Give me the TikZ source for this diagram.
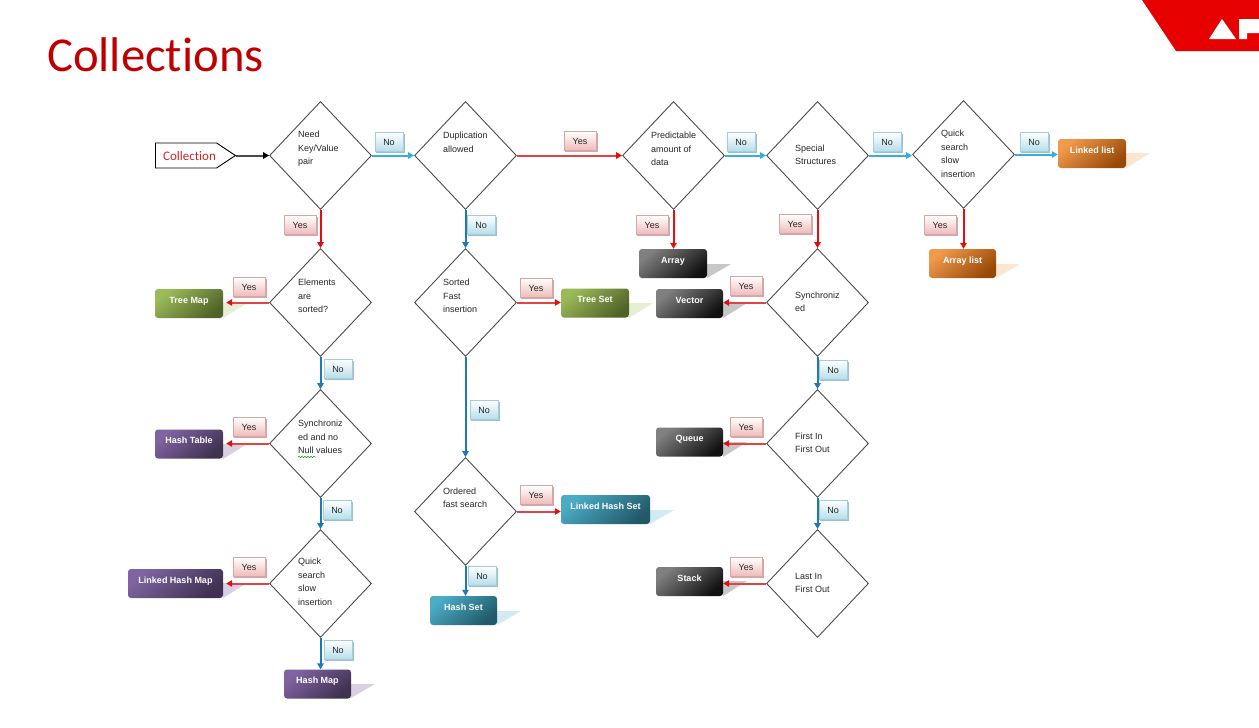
\documentclass[tikz,border=0pt]{standalone}
\usepackage{fontspec}
\setmainfont{Liberation Sans}
\newfontfamily\calfont[Ligatures=NoCommon]{Carlito}
\usetikzlibrary{shapes.geometric,shapes.symbols,arrows.meta,decorations.pathmorphing}
\definecolor{redT}{HTML}{C00000}
\definecolor{logoR}{HTML}{E60000}
\definecolor{ayes}{HTML}{E01010}
\definecolor{ayesl}{HTML}{E04545}
\definecolor{ano}{HTML}{1F78B8}
\definecolor{anol}{HTML}{35B0DC}
\definecolor{Tg1}{HTML}{9BBB59}\definecolor{Tg2}{HTML}{4F6228}
\definecolor{Tp1}{HTML}{8064A2}\definecolor{Tp2}{HTML}{3F3151}
\definecolor{Tk1}{HTML}{808080}\definecolor{Tk2}{HTML}{111111}
\definecolor{Tt1}{HTML}{4BACC6}\definecolor{Tt2}{HTML}{215968}
\definecolor{To1}{HTML}{F09A4C}\definecolor{To2}{HTML}{984807}
\definecolor{Yd}{HTML}{D9A5A5}\definecolor{Yb}{HTML}{EFB9B9}
\definecolor{Ys}{HTML}{CFA8A8}
\definecolor{Nd}{HTML}{A5CEDC}\definecolor{Nb}{HTML}{B5DDEA}
\definecolor{Ns}{HTML}{A0BFCB}
\tikzset{
 x=1pt,y=-1pt,
 dec/.style={diamond,draw=black!70,line width=.9pt,minimum width=102pt,minimum height=108pt,inner sep=0pt,aspect=1},
 dectext/.style={anchor=west,align=left,font=\fontsize{9}{13.5}\selectfont,text=black!85,inner sep=0pt},
 term/.style={rounded corners=3pt,minimum height=29pt,inner sep=0pt,text=white,
   font=\fontsize{9}{10}\selectfont\bfseries,text height=8pt,text depth=9pt},
 tgreen/.style={term,top color=Tg1,bottom color=Tg2,shading angle=40},
 tpurple/.style={term,top color=Tp1,bottom color=Tp2,shading angle=40},
 tgray/.style={term,top color=Tk1,bottom color=Tk2,shading angle=40},
 tteal/.style={term,top color=Tt1,bottom color=Tt2,shading angle=40},
 torange/.style={term,top color=To1,bottom color=To2,shading angle=40},
 tagyes/.style={draw=Yd,top color=white,bottom color=Yb,line width=.6pt,minimum width=32pt,minimum height=19pt,inner sep=0pt,
   font=\fontsize{9}{10}\selectfont,text=black!85},
 tagno/.style={draw=Nd,top color=white,bottom color=Nb,line width=.6pt,minimum width=28pt,minimum height=19pt,inner sep=0pt,
   font=\fontsize{9}{10}\selectfont,text=black!85},
 arrowhd/.style={-{Triangle[length=6pt,width=6.5pt,color=#1]}},
 ayesline/.style={color=ayes,line width=2pt,arrowhd=ayes},
 ayeslight/.style={color=ayesl,line width=2pt,arrowhd=ayes},
 anoline/.style={color=ano,line width=2pt,arrowhd=ano},
 anolline/.style={color=anol,line width=2pt,arrowhd=anol},
 gapend/.style={shorten >=3pt},
}
\newcommand{\shad}[4]{\fill[#4] (#1,#3) -- ++(24,0) -- (#1,#2) -- cycle;}
\newcommand{\ytag}[3]{%
 \fill[Ys] (#2-15,#3-8) rectangle (#2+17.5,#3+11);
 \node[tagyes] (#1) at (#2,#3) {Yes};}
\newcommand{\ntag}[3]{%
 \fill[Ns] (#2-13,#3-8) rectangle (#2+15.5,#3+11);
 \node[tagno] (#1) at (#2,#3) {No};}
\begin{document}
\begin{tikzpicture}
\useasboundingbox (0,0) rectangle (1259,728);
\fill[white] (0,0) rectangle (1259,728);
% logo
\fill[logoR] (1142,0) -- (1259,0) -- (1259,51) -- (1176,51) -- cycle;
\fill[white] (1209,39) -- (1222,19) -- (1236,39) -- cycle;
\fill[white] (1239,39) -- (1239,19) -- (1259,19) -- (1259,33) -- (1247,33) -- (1247,39) -- cycle;
% title
\node[anchor=west,inner sep=0pt,text=redT,font=\calfont\fontsize{48.7}{52}\selectfont] (title) at (47,55) {Collections};
% shadows of terminal boxes
\shad{223}{318}{303}{Tg1!25}
\shad{223}{459}{444}{Tp1!30}
\shad{223}{598}{583}{Tp1!30}
\shad{351}{698}{684}{Tp1!30}
\shad{629}{318}{303}{Tg1!25}
\shad{650}{524}{510}{Tt1!25}
\shad{497}{625}{611}{Tt1!25}
\shad{707}{278}{264}{black!22}
\shad{723}{318}{303}{black!22}
\shad{723}{457}{442}{black!22}
\shad{723}{596}{581}{black!22}
\shad{996}{278}{264}{To1!25}
\shad{1126}{168}{153}{To1!25}
% start
\node[signal,signal to=east,signal pointer angle=67,draw=black,line width=.9pt,minimum width=80pt,minimum height=25pt,inner sep=0pt,anchor=west] (start) at (155,155.5) {};
\node[inner sep=0pt,text=redT!85!white,font=\calfont\fontsize{13}{14}\selectfont] (starttext) at (189.5,156) {Collection};
% decisions
\node[dec] (d1) at (320.5,155.5) {};
\node[dec] (d2) at (465.5,155.5) {};
\node[dec] (d3) at (673.5,155.5) {};
\node[dec] (d4) at (817.5,155.5) {};
\node[dec] (d5) at (963.5,154.5) {};
\node[dec] (e1) at (320.5,302.5) {};
\node[dec] (e2) at (320.5,443.5) {};
\node[dec] (e3) at (320.5,583.5) {};
\node[dec] (f1) at (465.5,302.5) {};
\node[dec] (f2) at (465.5,511.5) {};
\node[dec] (g1) at (817.5,302.5) {};
\node[dec] (g2) at (817.5,443.5) {};
\node[dec] (g3) at (817.5,583.5) {};
\node[dectext] (td1) at (298,149) {Need\\Key/Value\\pair};
\node[dectext] (td2) at (443,142.5) {Duplication\\allowed};
\node[dectext] (td3) at (651,149) {Predictable\\amount of\\data};
\node[dectext] (td4) at (795,155) {Special\\Structures};
\node[dectext] (td5) at (941,154) {Quick\\search\\slow\\insertion};
\node[dectext] (te1) at (298,296) {Elements\\are\\sorted?};
\node[dectext] (te2) at (298,437) {Synchroniz\\ed and no\\Null values};
\node[dectext] (te3) at (298,582) {Quick\\search\\slow\\insertion};
\node[dectext] (tf1) at (443,296) {Sorted\\Fast\\insertion};
\node[dectext] (tf2) at (443,498) {Ordered\\fast search};
\node[dectext] (tg1) at (795,302) {Synchroniz\\ed};
\node[dectext] (tg2) at (795,443) {First In\\First Out};
\node[dectext] (tg3) at (795,583) {Last In\\First Out};
\draw[green!55!black,line width=.5pt,decorate,decoration={snake,amplitude=.6pt,segment length=3pt}] (298,457) -- (316,457);
% terminals
\node[tgreen,minimum width=68pt] (treemap) at (189,303.5) {Tree Map};
\node[tpurple,minimum width=68pt] (hashtable) at (189,444) {Hash Table};
\node[tpurple,minimum width=95pt] (lhm) at (175.5,583.5) {Linked Hash Map};
\node[tpurple,minimum width=67pt] (hashmap) at (317.5,684) {Hash Map};
\node[tgreen,minimum width=68pt] (treeset) at (595,303) {Tree Set};
\node[tteal,minimum width=89pt] (lhs) at (605.5,509.5) {Linked Hash Set};
\node[tteal,minimum width=67pt] (hashset) at (463.5,610.5) {Hash Set};
\node[tgray,minimum width=68pt] (array) at (673,263.5) {Array};
\node[tgray,minimum width=67pt] (vector) at (689.5,303.5) {Vector};
\node[tgray,minimum width=67pt] (queue) at (689.5,442) {Queue};
\node[tgray,minimum width=67pt] (stack) at (689.5,581.5) {Stack};
\node[torange,minimum width=67pt] (arraylist) at (962.5,263.5) {Array list};
\node[torange,minimum width=68pt] (linkedlist) at (1092,153.5) {Linked list};
% connectors
\draw[black!70,line width=2pt,arrowhd=black] (start.east) -- (start.east -| d1.west);
\draw[anolline] (d1.east) -- (d2.west);
\draw[ayeslight] (d2.east) -- (d3.west);
\draw[anolline] (d3.east) -- (d4.west);
\draw[anolline] (d4.east) -- (d4.east -| d5.west);
\draw[anolline] (d5.east) -- (d5.east -| linkedlist.west);
\draw[ayesline] (d1.south) -- (e1.north);
\draw[anoline] (e1.south) -- (e2.north);
\draw[anoline] (e2.south) -- (e3.north);
\draw[anoline] (e3.south) -- (e3.south |- hashmap.north);
\draw[ayeslight,gapend] (e1.west) -- (e1.west -| treemap.east);
\draw[ayeslight,gapend] (e2.west) -- (e2.west -| hashtable.east);
\draw[ayeslight,gapend] (e3.west) -- (e3.west -| lhm.east);
\draw[anoline] (d2.south) -- (f1.north);
\draw[anoline] (f1.south) -- (f2.north);
\draw[anoline] (f2.south) -- (f2.south |- hashset.north);
\draw[ayeslight] (f1.east) -- (f1.east -| treeset.west);
\draw[ayeslight] (f2.east) -- (f2.east -| lhs.west);
\draw[ayesline] (d3.south) -- (d3.south |- array.north);
\draw[ayesline] (d4.south) -- (g1.north);
\draw[anoline] (g1.south) -- (g2.north);
\draw[anoline] (g2.south) -- (g3.north);
\draw[ayeslight] (g1.west) -- (g1.west -| vector.east);
\draw[ayeslight] (g2.west) -- (g2.west -| queue.east);
\draw[ayeslight] (g3.west) -- (g3.west -| stack.east);
\draw[ayesline] (d5.south) -- (d5.south |- arraylist.north);
% tags
\ntag{n1}{389}{142}
\ytag{y1}{300}{225}
\ntag{n2}{481}{225}
\ytag{y2}{580}{141}
\ntag{n3}{741}{142}
\ntag{n4}{887}{142}
\ntag{n5}{1034}{142}
\ytag{y3}{652}{225}
\ytag{y4}{795}{224}
\ytag{y5}{940}{225}
\ytag{y6}{249}{287}
\ntag{n6}{338}{369}
\ytag{y7}{536}{288}
\ytag{y8}{746}{286}
\ntag{n7}{833}{370}
\ytag{y9}{249}{427}
\ntag{n8}{337}{510}
\ntag{n9}{484}{410}
\ytag{y10}{746}{427}
\ntag{n10}{833}{510}
\ytag{y11}{536}{495}
\ntag{n11}{482}{576}
\ytag{y12}{746}{567}
\ytag{y13}{249}{567}
\ntag{n12}{338}{650}
\end{tikzpicture}
\end{document}
